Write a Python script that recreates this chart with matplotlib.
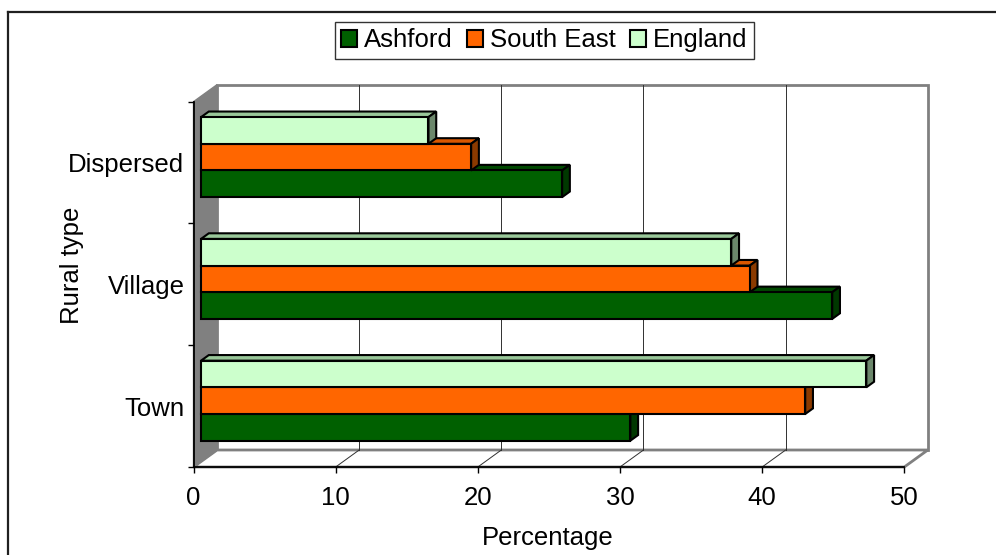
import matplotlib.pyplot as plt
from matplotlib.patches import Polygon, Rectangle
from matplotlib.lines import Line2D

plt.rcParams['font.family'] = ['Liberation Sans', 'DejaVu Sans']

# ------------------------------
# Data (percentages by rural type)
# ------------------------------
categories = ['Town', 'Village', 'Dispersed']
series_names = ['Ashford', 'South East', 'England']
ashford = [30.2, 44.4, 25.4]
south_east = [42.5, 38.6, 19.0]
england = [46.8, 37.3, 16.0]
x_ticks = [0, 10, 20, 30, 40, 50]

# front / top / side face colours for each series
front_cols = ['#006000', '#FF6600', '#CCFFCC']
top_cols = ['#004800', '#D95700', '#99C799']
side_cols = ['#003800', '#8B3A00', '#6B876B']

FS = 18.5

# ------------------------------
# Pseudo-3D geometry (in data units)
# ------------------------------
XMAX = 50
NCAT = len(categories)
DX = 1.653      # full depth shift along x
DY = 0.1396     # full depth shift along y
F0, F1 = 0.32, 0.65   # bar front / back depth fraction
BAR_H = 0.219

fig = plt.figure(figsize=(9.96, 5.55), dpi=100)
ax = fig.add_axes([193.5 / 996, (555 - 467) / 555,
                   (904.3 - 193.5) / 996, (467 - 101.7) / 555])
ax.set_xlim(0, XMAX)
ax.set_ylim(0, NCAT)


def poly(pts, fc, ec, lw, z):
    ax.add_patch(Polygon(pts, closed=True, facecolor=fc, edgecolor=ec,
                         linewidth=lw, clip_on=False, zorder=z,
                         joinstyle='miter'))


# back wall
poly([(DX, DY), (XMAX + DX, DY), (XMAX + DX, NCAT + DY), (DX, NCAT + DY)],
     'white', '#808080', 2, 1)
# floor
poly([(0, 0), (XMAX, 0), (XMAX + DX, DY), (DX, DY)], 'white', '#808080', 2, 1)
# left side wall
poly([(0, 0), (DX, DY), (DX, NCAT + DY), (0, NCAT)], '#808080', '#808080', 1, 1.5)

# gridlines on back wall and floor
for t in x_ticks[1:-1]:
    ax.plot([t + DX, t + DX], [DY, NCAT + DY], color='#303030', lw=0.7,
            clip_on=False, zorder=2)
    ax.plot([t, t + DX], [0, DY], color='#303030', lw=0.7,
            clip_on=False, zorder=2)


def draw_bar(value, y0, k, z):
    x0 = F0 * DX
    yb = y0 + F0 * DY
    bdx = (F1 - F0) * DX
    bdy = (F1 - F0) * DY
    x1 = x0 + value
    poly([(x0, yb + BAR_H), (x1, yb + BAR_H), (x1 + bdx, yb + BAR_H + bdy),
          (x0 + bdx, yb + BAR_H + bdy)], top_cols[k], 'black', 1.5, z)
    poly([(x1, yb), (x1 + bdx, yb + bdy), (x1 + bdx, yb + BAR_H + bdy),
          (x1, yb + BAR_H)], side_cols[k], 'black', 1.5, z)
    poly([(x0, yb), (x1, yb), (x1, yb + BAR_H), (x0, yb + BAR_H)],
         front_cols[k], 'black', 1.5, z)


all_series = [ashford, south_east, england]
z = 3
for i in range(NCAT):
    base = i + 0.5 - 1.5 * BAR_H
    for k, vals in enumerate(all_series):
        draw_bar(vals[i], base + k * BAR_H, k, z)
        z += 0.1

# ------------------------------
# Axes styling
# ------------------------------
for s in ['top', 'right']:
    ax.spines[s].set_visible(False)
for s in ['left', 'bottom']:
    ax.spines[s].set_color('black')
    ax.spines[s].set_linewidth(1.3)
    ax.spines[s].set_zorder(10)
ax.patch.set_visible(False)

ax.set_xticks(x_ticks)
ax.set_xticklabels([str(t) for t in x_ticks])
ax.tick_params(axis='x', direction='out', length=4.5, width=1, pad=9.5,
               labelsize=FS)
ax.set_yticks(range(NCAT + 1))
ax.set_yticklabels([])
ax.set_yticks([i + 0.5 for i in range(NCAT)], minor=True)
ax.set_yticklabels(categories, minor=True)
ax.tick_params(axis='y', which='major', direction='out', length=4.5, width=1)
ax.tick_params(axis='y', which='minor', length=0, pad=6.5, labelsize=FS)

ax.set_xlabel('Percentage', fontsize=FS)
ax.xaxis.set_label_coords((548 - 193.5) / 710.8, (467 - 526) / 365.3)
ax.set_ylabel('Rural type', fontsize=FS)
ax.yaxis.set_label_coords((84 - 193.5) / 710.8, (467 - 265) / 365.3)

# legend
handles = [Rectangle((0, 0), 1, 1, facecolor=c, edgecolor='black', linewidth=1.5)
           for c in front_cols]
leg = fig.legend(handles, series_names, loc='upper center',
                 bbox_to_anchor=(544.5 / 996, 1 - 22 / 555), ncol=3,
                 fontsize=FS, frameon=True, fancybox=False,
                 edgecolor='black', handlelength=0.6, handleheight=0.6,
                 handletextpad=0.3, columnspacing=0.55, borderpad=0.25,
                 borderaxespad=0)
leg.get_frame().set_linewidth(1)

# outer chart border (right / bottom edges fall outside the picture)
fig.add_artist(Line2D([8 / 996, 8 / 996], [0, 1 - 12 / 555],
                      color='#202020', lw=1.6))
fig.add_artist(Line2D([8 / 996, 1], [1 - 12 / 555, 1 - 12 / 555],
                      color='#202020', lw=1.6))

fig.savefig('out.png', dpi=100)
